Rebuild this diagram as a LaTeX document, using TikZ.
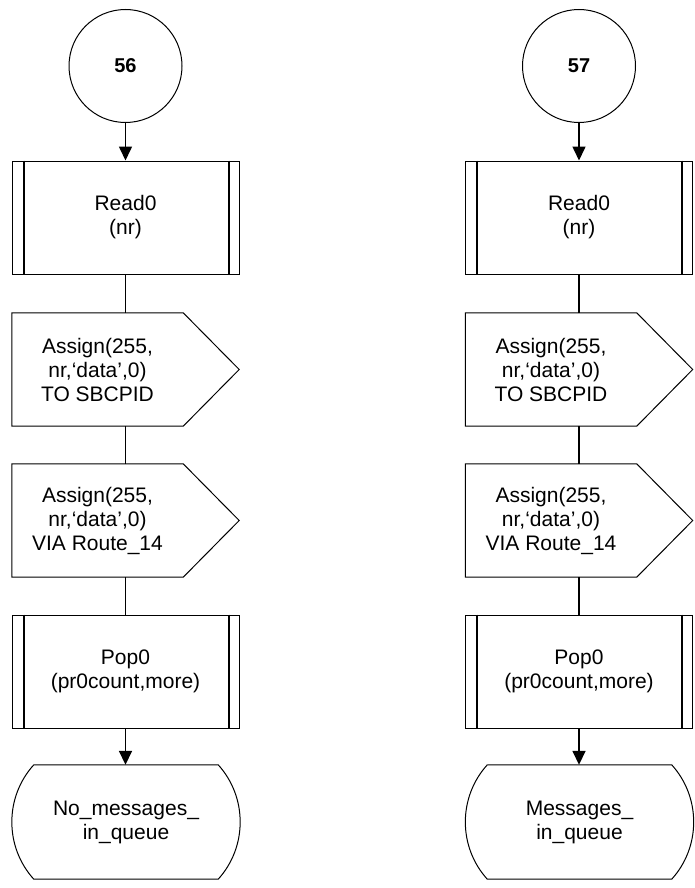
\documentclass[tikz,border=0pt]{standalone}
\usepackage{fontspec}
\setmainfont{Liberation Sans}
\usetikzlibrary{arrows.meta,calc}
\begin{document}
\begin{tikzpicture}[x=1pt,y=-1pt,
  every node/.style={font=\fontsize{21}{24}\selectfont, align=center, inner sep=0pt},
  conn/.style={line width=1.6pt, draw=black},
  arr/.style={conn, -{Triangle[length=14pt,width=13pt]}},
  outl/.style={line width=1pt, draw=black},
  inner/.style={line width=2pt, draw=black},
  conbox/.style={circle, outl, minimum size=113pt, font=\fontsize{20}{24}\selectfont\bfseries},
  procbox/.style={rectangle, outl, minimum width=227pt, minimum height=113pt},
  sigbox/.style={rectangle, minimum width=171pt, minimum height=113pt},
  termbox/.style={rectangle, minimum width=184pt, minimum height=114pt}
]
\useasboundingbox (0,0) rectangle (695,888);

% ---- left column
\node[conbox] (c1) at (125.5,66) {56};
\node[procbox] (r1) at (125.5,217.5) {Read0\\(nr)};
\node[sigbox] (a1) at (97.5,369.5) {Assign(255,\\nr,‘data’,0)\\TO SBCPID};
\node[sigbox] (b1) at (97.5,520.5) {Assign(255,\\nr,‘data’,0)\\VIA Route\_14};
\node[procbox] (p1) at (125.5,671.5) {Pop0\\(pr0count,more)};
\node[termbox] (t1) at (126,822) {No\_messages\_\\in\_queue};

% ---- right column
\node[conbox] (c2) at (579,66) {57};
\node[procbox] (r2) at (579,217.5) {Read0\\(nr)};
\node[sigbox] (a2) at (551,369.5) {Assign(255,\\nr,‘data’,0)\\TO SBCPID};
\node[sigbox] (b2) at (551,520.5) {Assign(255,\\nr,‘data’,0)\\VIA Route\_14};
\node[procbox] (p2) at (579,671.5) {Pop0\\(pr0count,more)};
\node[termbox] (t2) at (579.5,822) {Messages\_\\in\_queue};

% ---- inner lines of procedure boxes
\foreach \n in {r1,p1,r2,p2}{
  \draw[inner] ($(\n.north west)+(12,0)$) -- ($(\n.south west)+(12,0)$);
  \draw[inner] ($(\n.north east)+(-11,0)$) -- ($(\n.south east)+(-11,0)$);
}

% ---- signal (output) shapes
\foreach \n in {a1,b1,a2,b2}{
  \draw[outl] (\n.north west) -- (\n.north east) -- ($(\n.east)+(56,0)$)
    -- (\n.south east) -- (\n.south west) -- cycle;
}

% ---- terminal shapes
\foreach \n in {t1,t2}{
  \draw[outl] (\n.north west) -- (\n.north east)
    .. controls ($(\n.north east)+(29.3,32.3)$) and ($(\n.south east)+(29.3,-32.3)$) .. (\n.south east)
    -- (\n.south west)
    .. controls ($(\n.south west)+(-29.3,-32.3)$) and ($(\n.north west)+(-29.3,32.3)$) .. (\n.north west);
}

% ---- connectors
\foreach \c/\r/\a/\b/\p/\t in {c1/r1/a1/b1/p1/t1, c2/r2/a2/b2/p2/t2}{
  \draw[arr] (\c) -- (\r);
  \draw[conn] (\r.south) -- (\r.south |- \a.north);
  \draw[conn] (\r.south |- \a.south) -- (\r.south |- \b.north);
  \draw[conn] (\r.south |- \b.south) -- (\p.north);
  \draw[arr] (\p.south) -- (\p.south |- \t.north);
}
\end{tikzpicture}
\end{document}
